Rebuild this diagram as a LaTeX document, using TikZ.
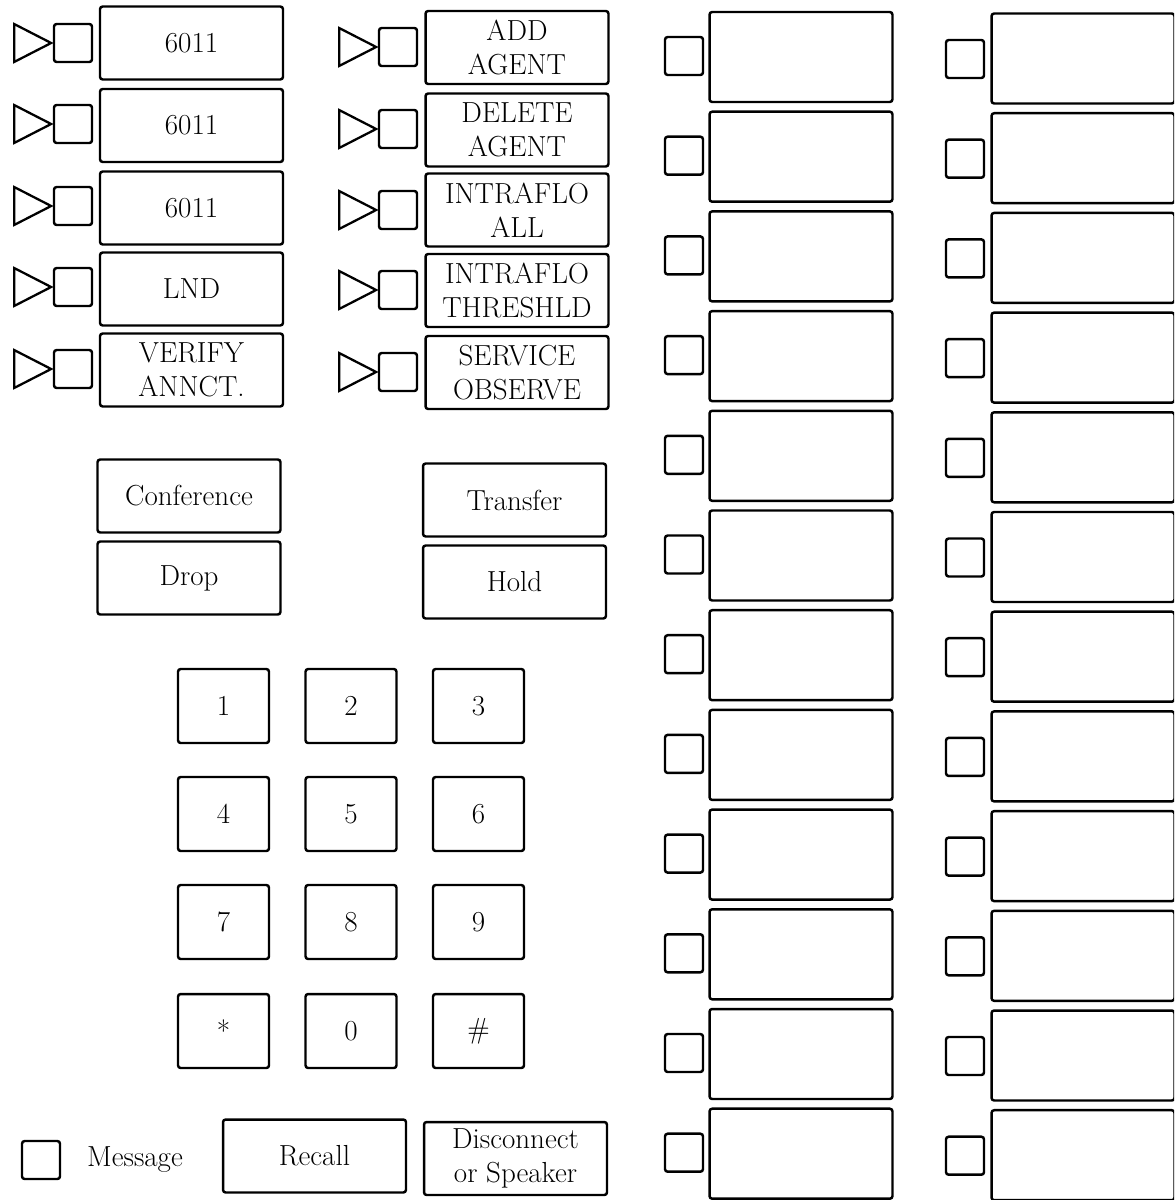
\documentclass[tikz,border=0pt]{standalone}
\usetikzlibrary{shapes.geometric}

\begin{document}
\begin{tikzpicture}[x = 0.02cm, y = -0.02cm,
                   every node/.style = {font           = \fontsize{16.5}{19.5}\selectfont,
                                        align          = center,
                                        inner sep      = 0pt},
                   key/.style        = {shape          = rectangle,
                                        rounded corners = 1.5pt,
                                        draw,
                                        line width     = 1.4pt,
                                        minimum width  = 3.66cm,
                                        minimum height = 1.46cm},
                   dial key/.style   = {key,
                                        minimum width  = 1.82cm,
                                        minimum height = 1.48cm},
                   blank key/.style  = {key,
                                        minimum width  = 3.66cm,
                                        minimum height = 1.8cm},
                   lamp/.style       = {shape          = rectangle,
                                        rounded corners = 1.5pt,
                                        draw,
                                        line width     = 1.4pt,
                                        minimum size   = 0.76cm},
                   tri/.style        = {shape          = isosceles triangle,
                                        isosceles triangle stretches,
                                        anchor         = west,
                                        draw,
                                        line width     = 1.3pt,
                                        minimum width  = 0.76cm,
                                        minimum height = 0.74cm}]

\useasboundingbox (0,0) rectangle (1174,1200);
\clip (0,0) rectangle (1174,1200);

% the feature keys : left and middle
\foreach \y [count=\j] in {43,124,206,287,369}
  { \node[tri]  (tl;\j) at (13,\y) {};
    \node[lamp] (ll;\j) at (73,\y) {}; }
\foreach \y [count=\j] in {47,129,210,290,372}
  { \node[tri]  (tm;\j) at (338,\y) {};
    \node[lamp] (lm;\j) at (398,\y) {}; }

\node[key] (L;1) at (191.5, 43) {6011};
  \node[key] (L;2) at (191.5,125.5) {6011};
  \node[key] (L;3) at (191.5,208) {6011};
  \node[key] (L;4) at (191.5,289) {LND};
  \node[key] (L;5) at (191.5,370) {VERIFY\\ANNCT.};
\node[key] (M;1) at (517, 47.5) {ADD\\AGENT};
  \node[key] (M;2) at (517,130) {DELETE\\AGENT};
  \node[key] (M;3) at (517,210) {INTRAFLO\\ALL};
  \node[key] (M;4) at (517,290.5) {INTRAFLO\\THRESHLD};
  \node[key] (M;5) at (517,372.5) {SERVICE\\OBSERVE};

% call handling keys
\node[key] (conf) at (189,496) {Conference};
  \node[key] (drop) at (189,578) {Drop};
\node[key] (xfer) at (514.5,500) {Transfer};
  \node[key] (hold) at (514.5,582) {Hold};

% dial pad
\foreach \y/\a/\b/\c [count=\r] in {706/1/2/3, 814/4/5/6, 922/7/8/9, 1031/*/0/\#}
  { \node[dial key] (d;\r;1) at (223.5,\y) {\a};
    \node[dial key] (d;\r;2) at (351,\y)   {\b};
    \node[dial key] (d;\r;3) at (478.5,\y) {\c}; }

% bottom row
\node[lamp] (msg lamp) at (41,1160) {};
  \node (msg) at (135,1160) {Message};
\node[key] (recall) at (314.5,1156) {Recall};
  \node[key] (disc) at (515.5,1158.5) {Disconnect\\or Speaker};

% the blank keys : right
\foreach \j in {0,...,11}
  { \node[lamp]      (ra;\j) at (684,56+99.7*\j)    {};
    \node[blank key] (A;\j)  at (801,57+99.7*\j)    {};
    \node[lamp]      (rb;\j) at (965,59+99.7*\j)    {};
    \node[blank key] (B;\j)  at (1083,58.5+99.7*\j) {}; }
\end{tikzpicture}
\end{document}
